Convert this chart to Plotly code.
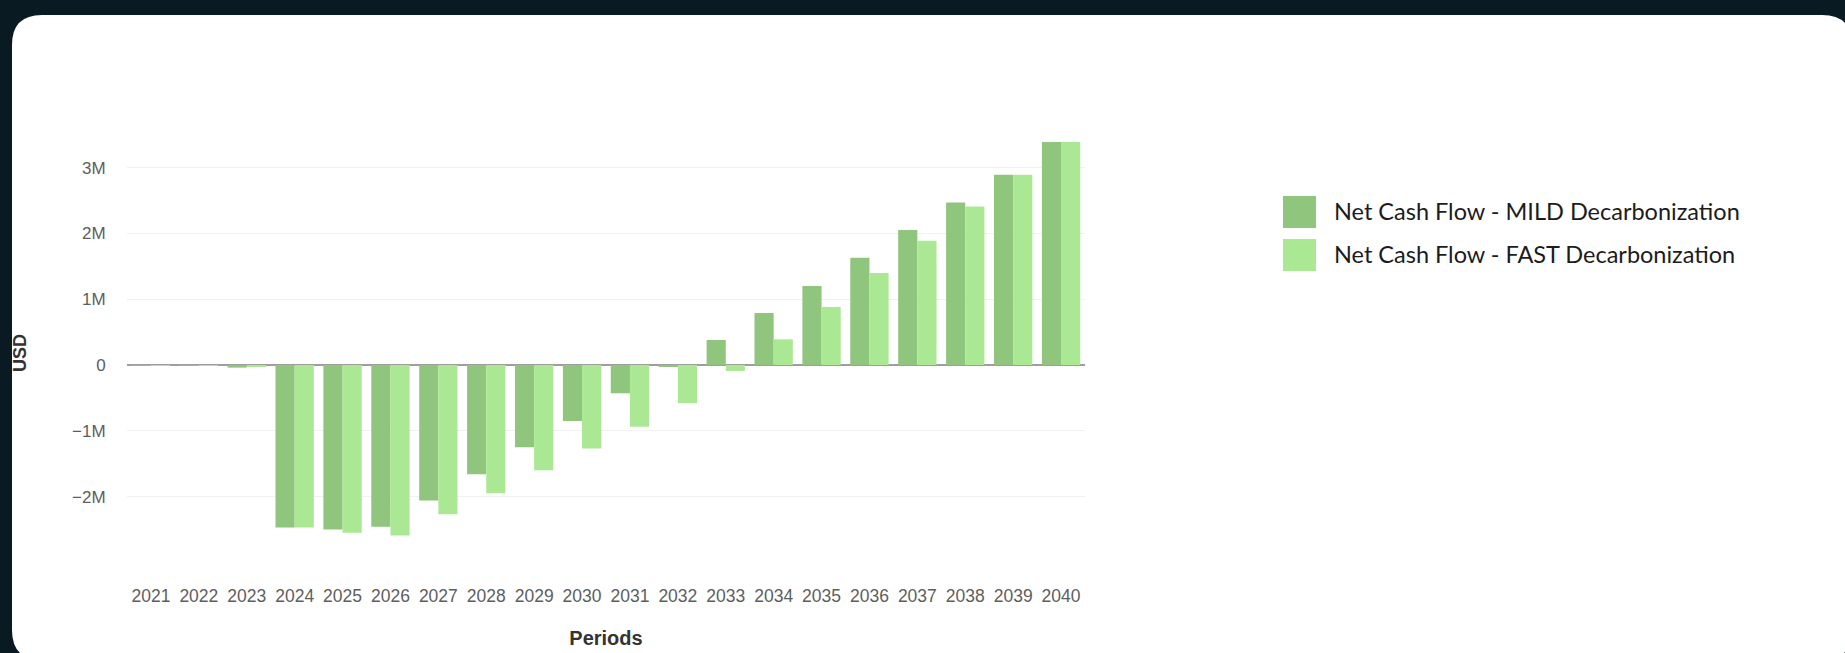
import plotly.graph_objects as go

# Net cash flow per period, two decarbonization scenarios (USD)
periods = [str(y) for y in range(2021, 2041)]
mild_musd = [-0.01, -0.01, -0.04, -2.47, -2.50, -2.46, -2.06, -1.66, -1.25, -0.85,
             -0.43, -0.02, 0.38, 0.79, 1.20, 1.63, 2.05, 2.47, 2.89, 3.39]
fast_musd = [-0.01, -0.01, -0.03, -2.47, -2.55, -2.59, -2.27, -1.95, -1.60, -1.27,
             -0.94, -0.58, -0.09, 0.39, 0.88, 1.40, 1.89, 2.41, 2.89, 3.39]
series_names = ["Net Cash Flow - MILD Decarbonization",
                "Net Cash Flow - FAST Decarbonization"]
y_tickvals = [-2e6, -1e6, 0, 1e6, 2e6, 3e6]

mild = [v * 1e6 for v in mild_musd]
fast = [v * 1e6 for v in fast_musd]

colors = ["#8fc57c", "#abe893"]
BG = "#0a1a22"

W, H = 1845, 653
L, R, T, B = 127, 760, 131, 78
plot_w = W - L - R
plot_h = H - T - B


def px_x(x):
    return (x - L) / plot_w


def px_y(y):
    return (H - B - y) / plot_h


def rounded_rect(x0, y0, x1, y1, r):
    pts = [
        f"M {px_x(x0 + r)} {px_y(y0)}",
        f"L {px_x(x1 - r)} {px_y(y0)}",
        f"Q {px_x(x1)} {px_y(y0)} {px_x(x1)} {px_y(y0 + r)}",
        f"L {px_x(x1)} {px_y(y1 - r)}",
        f"Q {px_x(x1)} {px_y(y1)} {px_x(x1 - r)} {px_y(y1)}",
        f"L {px_x(x0 + r)} {px_y(y1)}",
        f"Q {px_x(x0)} {px_y(y1)} {px_x(x0)} {px_y(y1 - r)}",
        f"L {px_x(x0)} {px_y(y0 + r)}",
        f"Q {px_x(x0)} {px_y(y0)} {px_x(x0 + r)} {px_y(y0)}",
        "Z",
    ]
    return " ".join(pts)


fig = go.Figure()
for name, vals, col in zip(series_names, [mild, fast], colors):
    fig.add_trace(go.Bar(x=periods, y=vals, name=name, marker_color=col,
                         marker_line_width=0, showlegend=False))

shapes = [dict(type="path", xref="paper", yref="paper", layer="below",
               path=rounded_rect(12, 15, 1852, 660, 30),
               fillcolor="white", line=dict(width=0))]
annotations = []

# legend with large square swatches
legend_rows = [212, 255]
for name, col, yc in zip(series_names, colors, legend_rows):
    shapes.append(dict(type="rect", xref="paper", yref="paper",
                       x0=px_x(1283), x1=px_x(1316),
                       y0=px_y(yc - 16), y1=px_y(yc + 16),
                       fillcolor=col, line=dict(width=0)))
    annotations.append(dict(text=name, xref="paper", yref="paper",
                            x=px_x(1332), y=px_y(yc - 1.5), xanchor="left",
                            yanchor="middle", showarrow=False,
                            font=dict(family="Lato", size=23.5, color="#1c1c1c")))

fig.update_layout(
    width=W, height=H,
    margin=dict(l=L, r=R, t=T, b=B, autoexpand=False),
    paper_bgcolor=BG,
    plot_bgcolor="rgba(0,0,0,0)",
    barmode="group",
    bargap=0.2,
    bargroupgap=0,
    shapes=shapes,
    annotations=annotations,
    font=dict(family="Liberation Sans"),
)

fig.update_xaxes(
    type="category",
    showgrid=False, showline=False, zeroline=False,
    ticks="outside", ticklen=5, tickcolor="rgba(0,0,0,0)",
    tickfont=dict(family="Liberation Sans", size=17.5, color="#5e5e5e"),
    title=dict(text="Periods", standoff=25,
               font=dict(family="Liberation Sans", size=20, color="#333333",
                         weight="bold")),
    automargin=False,
)

fig.update_yaxes(
    range=[-(575 - 365) / 65.8 * 1e6, (365 - 131) / 65.8 * 1e6],
    tickvals=y_tickvals, tickformat="~s",
    showgrid=True, gridcolor="#f1f1f1", gridwidth=1,
    zeroline=True, zerolinecolor="#9e9e9e", zerolinewidth=1.5,
    showline=False,
    ticks="outside", ticklen=17, tickcolor="rgba(0,0,0,0)",
    tickfont=dict(family="Liberation Sans", size=17, color="#5e5e5e"),
    title=dict(text="USD", standoff=40,
               font=dict(family="Liberation Sans", size=18, color="#333333",
                         weight="bold")),
    automargin=False,
)

fig.write_html("out.html", config={"displayModeBar": False})
